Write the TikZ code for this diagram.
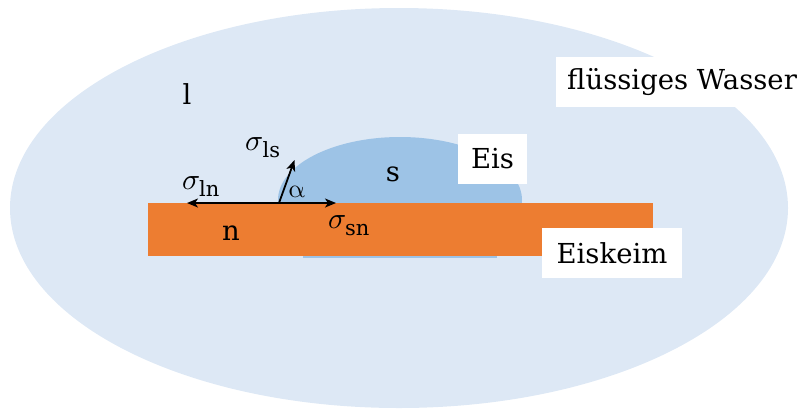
\documentclass[tikz,border=0pt]{standalone}
\usepackage{unicode-math}
\setmainfont{DejaVu Serif}
\usetikzlibrary{arrows.meta}
\definecolor{water}{HTML}{DDE8F5}
\definecolor{ice}{HTML}{9DC3E6}
\definecolor{seed}{HTML}{ED7D31}
\tikzset{
  lbl/.style={font=\fontsize{27.5pt}{33pt}\selectfont, inner sep=0pt, anchor=base},
  sig/.style={font=\fontsize{30pt}{35pt}\selectfont, inner sep=0pt, anchor=base},
  tagbox/.style={font=\fontsize{27.5pt}{33pt}\selectfont, fill=white, minimum height=50pt, inner xsep=11pt, inner ysep=0pt},
  force/.style={line width=1.8pt, -{Stealth[length=11pt,width=9pt,inset=3pt]}}
}
\begin{document}
\begin{tikzpicture}[x=1pt,y=-1pt]
\useasboundingbox (0,0) rectangle (797,408);
% liquid water
\fill[water] (399,208) ellipse [x radius=389, y radius=200];
% ice drop
\begin{scope}
  \clip (0,0) rectangle (797,203);
  \fill[ice] (400,200) ellipse [x radius=122, y radius=63];
\end{scope}
\fill[ice] (303,203) rectangle (497,257.5);
% ice nucleus substrate
\fill[seed] (148,203) rectangle (653,256);
% phase labels
\node[lbl] (l) at (187,104) {l};
\node[lbl] (s) at (393,181) {s};
\node[lbl] (n) at (231,240) {n};
% tag boxes
\node[tagbox, anchor=west] (wasser) at (556,82) {flüssiges Wasser};
\node[tagbox, minimum width=69pt] (eis) at (492.5,159) {Eis};
\node[tagbox, minimum width=140pt] (keim) at (612,253) {Eiskeim};
% forces
\coordinate (o) at (279,203);
\coordinate (tl) at (187,203);
\coordinate (tr) at (336,203);
\coordinate (tu) at (294.5,160);
\draw[force] (o) -- (tl);
\draw[force] (o) -- (tr);
\draw[force] (o) -- (tu);
\node[sig] (sls) at (263,150) {$\sigma_{\mathrm{ls}}$};
\node[sig] (sln) at (201,189) {$\sigma_{\mathrm{ln}}$};
\node[sig] (ssn) at (349,228) {$\sigma_{\mathrm{sn}}$};
\node[lbl, font=\fontsize{26pt}{30pt}\selectfont] (alpha) at (297,197) {$\upalpha$};
\end{tikzpicture}
\end{document}
